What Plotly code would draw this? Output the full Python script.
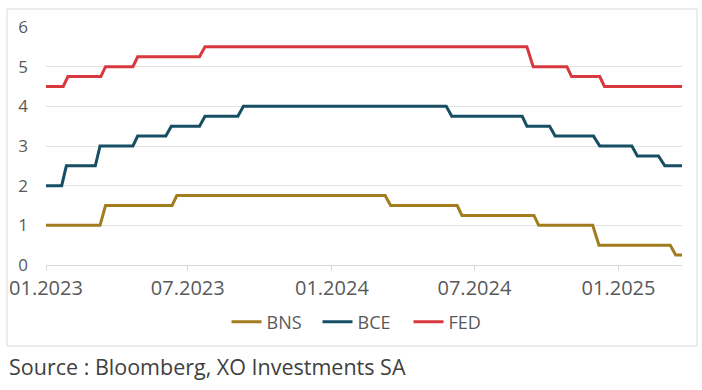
import plotly.graph_objects as go

# ---- data ----
bns_dates = ["2023-01-01", "2023-03-11", "2023-03-18", "2023-06-11", "2023-06-17",
             "2024-03-09", "2024-03-16", "2024-06-09", "2024-06-15", "2024-09-15",
             "2024-09-21", "2024-11-29", "2024-12-07", "2025-03-08", "2025-03-15",
             "2025-03-23"]
bns_values = [1.0, 1.0, 1.5, 1.5, 1.75, 1.75, 1.5, 1.5, 1.25, 1.25,
              1.0, 1.0, 0.5, 0.5, 0.25, 0.25]

bce_dates = ["2023-01-01", "2023-01-21", "2023-01-27", "2023-03-05", "2023-03-11",
             "2023-04-22", "2023-04-28", "2023-06-03", "2023-06-10", "2023-07-16",
             "2023-07-23", "2023-09-03", "2023-09-10", "2024-05-26", "2024-06-02",
             "2024-08-31", "2024-09-06", "2024-10-05", "2024-10-12", "2024-11-30",
             "2024-12-08", "2025-01-18", "2025-01-25", "2025-02-21", "2025-03-01",
             "2025-03-23"]
bce_values = [2.0, 2.0, 2.5, 2.5, 3.0, 3.0, 3.25, 3.25, 3.5, 3.5,
              3.75, 3.75, 4.0, 4.0, 3.75, 3.75, 3.5, 3.5, 3.25, 3.25,
              3.0, 3.0, 2.75, 2.75, 2.5, 2.5]

fed_dates = ["2023-01-01", "2023-01-23", "2023-01-29", "2023-03-12", "2023-03-18",
             "2023-04-22", "2023-04-28", "2023-07-16", "2023-07-23", "2024-09-06",
             "2024-09-14", "2024-10-27", "2024-11-02", "2024-12-08", "2024-12-14",
             "2025-03-23"]
fed_values = [4.5, 4.5, 4.75, 4.75, 5.0, 5.0, 5.25, 5.25, 5.5, 5.5,
              5.0, 5.0, 4.75, 4.75, 4.5, 4.5]

x_tick_vals = ["2023-01-01", "2023-07-01", "2024-01-01", "2024-07-01", "2025-01-01"]
x_tick_text = ["01.2023", "07.2023", "01.2024", "07.2024", "01.2025"]
y_tick_vals = [0, 1, 2, 3, 4, 5, 6]

series = [
    ("BNS", bns_dates, bns_values, "#A27D1E"),
    ("BCE", bce_dates, bce_values, "#164E63"),
    ("FED", fed_dates, fed_values, "#D8383E"),
]

# ---- layout geometry ----
W, H = 702, 390
ML, MR, MT, MB = 46, 20, 27, 125
PW, PH = W - ML - MR, H - MT - MB


def px_x(p):
    return (p - ML) / PW


def px_y(p):
    return (H - MB - p) / PH


FONT = "Open Sans"

fig = go.Figure()
for name, d, v, c in series:
    fig.add_trace(go.Scatter(x=d, y=v, mode="lines", name=name,
                             line=dict(color=c, width=3)))

fig.update_layout(
    width=W, height=H,
    margin=dict(l=ML, r=MR, t=MT, b=MB, autoexpand=False),
    paper_bgcolor="white", plot_bgcolor="white",
    font=dict(family=FONT, color="#595959"),
    showlegend=True,
    legend=dict(orientation="h", x=px_x(363), xanchor="center",
                y=px_y(322), yanchor="middle",
                font=dict(size=18, color="#595959", family=FONT),
                itemwidth=30, entrywidth=46, entrywidthmode="pixels",
                bgcolor="rgba(0,0,0,0)"),
    xaxis=dict(type="date", range=["2023-01-01", "2025-03-23"],
               tickvals=x_tick_vals, ticktext=x_tick_text,
               showgrid=False, showline=True, linecolor="#D9D9D9", linewidth=1,
               ticks="outside", ticklen=5, tickcolor="#D9D9D9",
               tickfont=dict(size=20, color="#595959", family=FONT),
               ticklabelstandoff=0, zeroline=False, fixedrange=True),
    yaxis=dict(range=[0, 6], tickvals=y_tick_vals,
               showgrid=True, gridcolor="#E3E3E3", gridwidth=1,
               showline=False, zeroline=False, ticks="",
               tickfont=dict(size=17, color="#595959", family=FONT),
               ticklabelstandoff=17, fixedrange=True),
    shapes=[dict(type="rect", xref="paper", yref="paper",
                 x0=px_x(7), x1=px_x(697), y0=px_y(346), y1=px_y(9),
                 line=dict(color="#D9D9D9", width=1), fillcolor="rgba(0,0,0,0)",
                 layer="below")],
    annotations=[dict(text="Source : Bloomberg, XO Investments SA",
                      xref="paper", yref="paper", x=px_x(7), y=px_y(366),
                      xanchor="left", yanchor="middle", showarrow=False,
                      font=dict(size=21.5, color="#404040", family=FONT))],
)

fig.write_html("out.html",
               config={"displayModeBar": False, "staticPlot": True},
               post_script="document.body.style.margin='0px';"
                           "document.body.style.padding='0px';")
